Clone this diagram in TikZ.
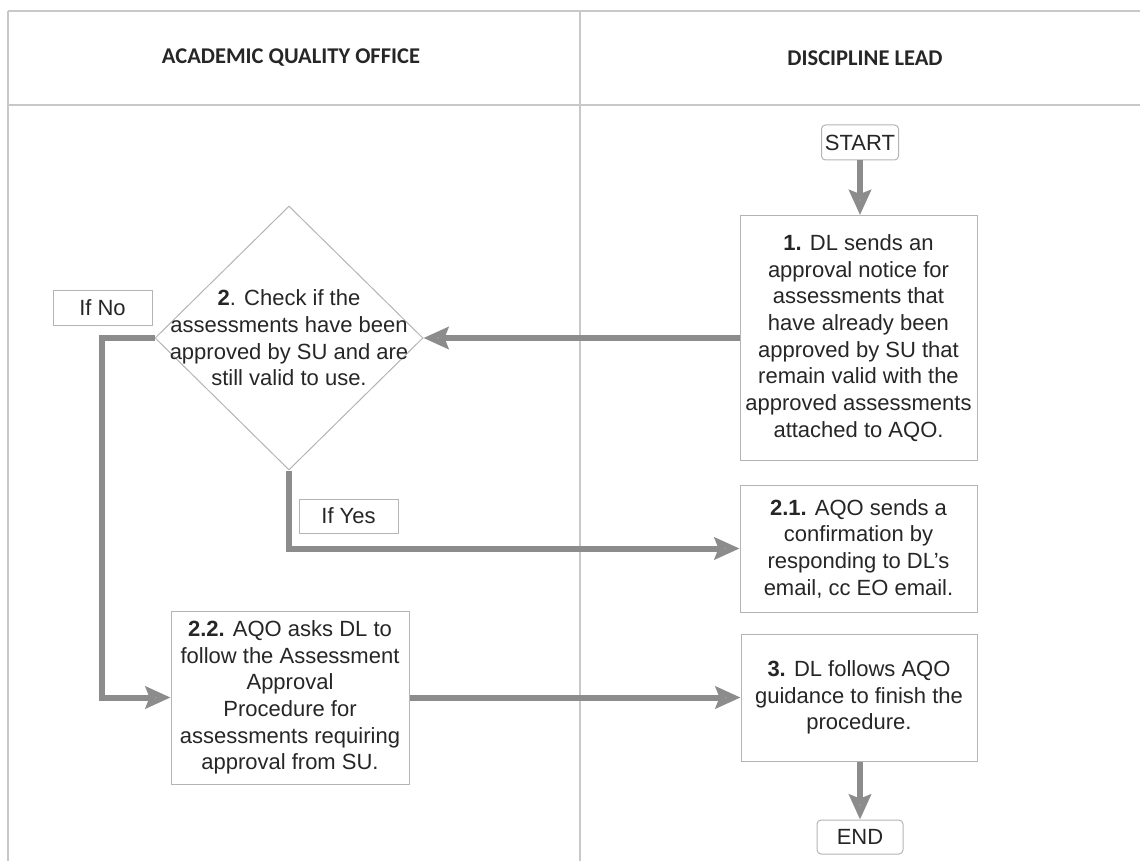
\documentclass[tikz,border=0pt]{standalone}
\usepackage{fontspec}
\setmainfont{Liberation Sans}
\newfontfamily\headfont{Carlito}
\usetikzlibrary{shapes.geometric,arrows.meta}

\definecolor{flowgrey}{HTML}{8C8C8C}
\definecolor{edgegrey}{HTML}{B4B4B4}
\definecolor{gridgrey}{HTML}{C8C8C8}
\definecolor{inkgrey}{HTML}{262626}

\begin{document}
\begin{tikzpicture}[x=1pt,y=-1pt]
%style for process box
\tikzstyle{pbox} = [rectangle, draw=edgegrey, line width=1pt, fill=white, text=inkgrey, align=center, inner sep=2pt, font=\fontsize{22pt}{26.7pt}\selectfont]

%style for start and end
\tikzstyle{terminal} = [pbox, rounded corners=4pt, minimum height=35pt]

%style for decision
\tikzstyle{decision} = [diamond, draw=edgegrey, line width=1pt, inner sep=0pt, minimum width=268pt, minimum height=264pt]

%style for branch label
\tikzstyle{branch} = [pbox, minimum width=99pt, minimum height=35pt]

%style for lane header
\tikzstyle{lane} = [text=inkgrey, font=\headfont\bfseries\fontsize{22.5pt}{27pt}\selectfont]

%style for flow arrow
\tikzstyle{flow} = [draw=flowgrey, line width=6pt, -{Stealth[length=25pt,width=22pt,inset=4pt,fill=flowgrey!85]}]

\useasboundingbox (0,0) rectangle (1140,861);

%lanes
\draw[gridgrey, line width=1.5pt] (8,11) -- (1140,11);
\draw[gridgrey, line width=1.5pt] (8,105) -- (1140,105);
\draw[gridgrey, line width=1.5pt] (8,11) -- (8,861);
\draw[gridgrey, line width=1.5pt] (580,11) -- (580,861);

\node[lane] (aqoHead) at (291,58) {ACADEMIC QUALITY OFFICE};
\node[lane] (dlHead) at (865,58) {DISCIPLINE LEAD};

%place nodes
\node[terminal, minimum width=77pt] (start) at (860,142.5) {START};

\node[pbox, minimum width=237pt, minimum height=245pt] (step1) at (858.5,338) {\textbf{1.} DL sends an\\approval notice for\\assessments that\\have already been\\approved by SU that\\remain valid with the\\approved assessments\\attached to AQO.};

\node[decision, label={[text=inkgrey, align=center, font=\fontsize{22pt}{26.7pt}\selectfont]center:{\textbf{2}. Check if the\\assessments have been\\approved by SU and are\\still valid to use.}}] (check) at (289,338) {};

\node[branch] (ifNo) at (102.5,308) {If No};

\node[branch, minimum height=34pt] (ifYes) at (348.5,516) {If Yes};

\node[pbox, minimum width=237pt, minimum height=127pt] (step21) at (858.5,548.5) {\textbf{2.1.} AQO sends a\\confirmation by\\responding to DL's\\email, cc EO email.};

\node[pbox, minimum width=238pt, minimum height=173pt] (step22) at (290,697.5) {\textbf{2.2.} AQO asks DL to\\follow the Assessment\\Approval\\Procedure for\\assessments requiring\\approval from SU.};

\node[pbox, minimum width=236pt, minimum height=127pt] (step3) at (859,697.5) {\textbf{3.} DL follows AQO\\guidance to finish the\\procedure.};

\node[terminal, minimum width=86pt, minimum height=34pt] (stop) at (860,837) {END};

%connect
\draw[flow] (start) -- (start |- step1.north);

\draw[flow] (step1.west) -- (check.east);

\draw[flow] (check.west) -- ++(-53,0) |- (step22.west);

\draw[flow] (check.south) |- (step21.west);

\draw[flow] (step22.east) -- (step3.west);

\draw[flow] (step3.south -| stop) -- (stop.north);
\end{tikzpicture}
\end{document}
